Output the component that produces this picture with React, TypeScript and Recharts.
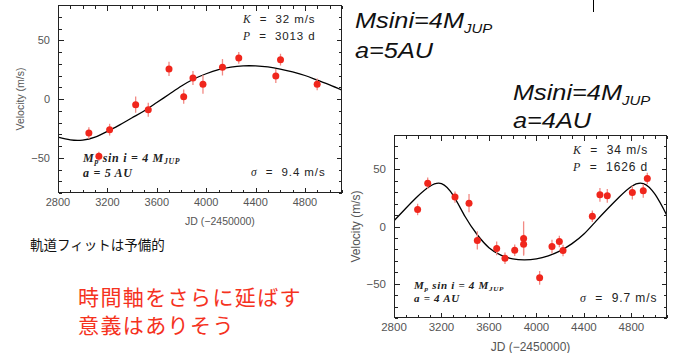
import React from "react";
import { ComposedChart, Line, Scatter, ErrorBar, XAxis, YAxis } from "recharts";

// Fitted RV curves, every 100 days
const fitDays = [
  2800, 2900, 3000, 3100, 3200, 3300, 3400, 3500, 3600, 3700, 3800, 3900,
  4000, 4100, 4200, 4300, 4400, 4500, 4600, 4700, 4800, 4900, 5000, 5100,
];
const fitVel5AU = [
  -32.5, -34.8, -35, -32.5, -27.5, -22, -16, -10, -3, 4, 11, 17, 21.5, 25,
  27.2, 28.2, 28.2, 27.3, 25.5, 23, 20, 16, 12, 7.5,
];
const fitVel4AU = [
  5, 16, 26.5, 35, 37.5, 27, 8.5, -7, -18.5, -25, -28.3, -29.2, -28.3, -25.6,
  -21.3, -15, -6.6, 4.5, 15.5, 26, 35, 37.5, 28, 9.5,
];

// Observations (JD - 2450000, m/s, 1-sigma)
const obsDays5AU = [3050, 3131, 3218, 3429, 3531, 3699, 3818, 3893, 3974, 4132, 4264, 4564, 4602, 4899];
const obsVel5AU = [-29, -48.8, -26.1, -4.8, -9.1, 25.6, 2, 17.9, 12.5, 27, 34.9, 19.6, 33.5, 12.5];
const obsErr5AU = [5, 4, 5, 7, 6, 6, 6, 6, 8, 7, 5, 6, 5, 5];

const obsDays4AU = [
  2999, 3084, 3314, 3432, 3502, 3665, 3735, 3817, 3892, 3892, 4027, 4131,
  4193, 4224, 4471, 4535, 4597, 4808, 4900, 4934,
];
const obsVel4AU = [
  14.9, 37.9, 25.7, 20.4, -12.2, -19.2, -27.7, -20.7, -10.5, -15.5, -44.9,
  -17.5, -13.1, -21, 9, 27.7, 26.8, 29.7, 31.2, 42,
];
const obsErr4AU = [5, 5, 5, 8, 8, 6, 5, 5, 15, 9, 6, 6, 5, 5, 5, 6, 6, 6, 6, 5];

const xMajor = [2800, 3200, 3600, 4000, 4400, 4800];
const xMinor = [
  2800, 2900, 3000, 3100, 3200, 3300, 3400, 3500, 3600, 3700, 3800, 3900,
  4000, 4100, 4200, 4300, 4400, 4500, 4600, 4700, 4800, 4900, 5000, 5100,
];
const yMajor = [-50, 0, 50];
const yMinor = [-80, -70, -60, -50, -40, -30, -20, -10, 0, 10, 20, 30, 40, 50, 60, 70, 80];

const X_DOMAIN: [number, number] = [2800, 5100];
const Y_DOMAIN: [number, number] = [-80, 80];

const AXIS = "#222";
const TICK_TEXT = "#555";
const SANS = '"Liberation Sans", Arial, sans-serif';
const SERIF = '"Liberation Serif", "Times New Roman", serif';

const fit5 = fitDays.map((t, i) => ({ t, v: fitVel5AU[i] }));
const fit4 = fitDays.map((t, i) => ({ t, v: fitVel4AU[i] }));
const obs5 = obsDays5AU.map((t, i) => ({ t, v: obsVel5AU[i], e: obsErr5AU[i] }));
const obs4 = obsDays4AU.map((t, i) => ({ t, v: obsVel4AU[i], e: obsErr4AU[i] }));

const fmt = (v: number) => (v < 0 ? `\u2212${Math.abs(v)}` : `${v}`);

function RedDot(props: any) {
  const { cx, cy } = props;
  if (cx == null || cy == null) return null;
  return <circle cx={cx} cy={cy} r={3.5} fill="#f0261c" />;
}

const MARGIN = { top: 5, right: 8, bottom: 0, left: 0 };

function panelConfig(fontSize: number, labelSize: number, yLabelOffset: number, xLabelOffset: number, xLabelDx: number) {
  return {
    tick: { fill: TICK_TEXT, fontSize, fontFamily: SANS },
    xLabel: {
      value: "JD (\u22122450000)",
      position: "insideBottom",
      offset: xLabelOffset,
      dx: xLabelDx,
      style: { fill: TICK_TEXT, fontSize: labelSize, fontFamily: SANS },
    },
    yLabel: {
      value: "Velocity (m/s)",
      angle: -90,
      position: "insideLeft",
      offset: yLabelOffset,
      style: { textAnchor: "middle", fill: TICK_TEXT, fontSize: labelSize, fontFamily: SANS },
    },
  };
}
const CFG_5AU = panelConfig(11, 10.5, 20, 10, 20);
const CFG_4AU = panelConfig(11.5, 12, 16, 2, 0);

interface PanelProps {
  width: number;
  height: number;
  yAxisWidth: number;
  xAxisHeight: number;
  fit: { t: number; v: number }[];
  obs: { t: number; v: number; e: number }[];
  cfg: ReturnType<typeof panelConfig>;
}

function RVPanel(p: PanelProps) {
  return (
    <ComposedChart width={p.width} height={p.height} margin={MARGIN}>
      <XAxis
        type="number"
        dataKey="t"
        domain={X_DOMAIN}
        allowDataOverflow
        ticks={xMajor}
        interval={0}
        tickLine={false}
        tickSize={0}
        tickMargin={5}
        axisLine={false}
        height={p.xAxisHeight}
        tick={p.cfg.tick}
        label={p.cfg.xLabel}
      />
      <YAxis
        type="number"
        domain={Y_DOMAIN}
        allowDataOverflow
        ticks={yMajor}
        interval={0}
        tickLine={false}
        tickSize={0}
        tickMargin={8}
        axisLine={false}
        width={p.yAxisWidth}
        tickFormatter={fmt}
        tick={p.cfg.tick}
        label={p.cfg.yLabel}
      />
      <Line
        data={p.fit}
        dataKey="v"
        type="natural"
        stroke="#000"
        strokeWidth={1.3}
        dot={false}
        activeDot={false}
        isAnimationActive={false}
      />
      <Scatter data={p.obs} dataKey="v" shape={RedDot} isAnimationActive={false}>
        <ErrorBar dataKey="e" direction="y" width={0} stroke="#f28a84" strokeWidth={1.3} isAnimationActive={false} />
      </Scatter>
    </ComposedChart>
  );
}

// boxed frame with inward major/minor ticks on all four sides, over the plot area
function Frame({ left, top, right, bottom }: { left: number; top: number; right: number; bottom: number }) {
  const w = right - left;
  const h = bottom - top;
  const sx = (t: number) => Math.round(((t - X_DOMAIN[0]) / (X_DOMAIN[1] - X_DOMAIN[0])) * w);
  const sy = (v: number) => Math.round(h - ((v - Y_DOMAIN[0]) / (Y_DOMAIN[1] - Y_DOMAIN[0])) * h);
  return (
    <svg
      width={w + 2}
      height={h + 2}
      style={{ position: "absolute", left: left - 1, top: top - 1, pointerEvents: "none" }}
    >
      <g transform="translate(1.5,1.5)" stroke={AXIS} strokeWidth={1} fill="none" shapeRendering="crispEdges">
        <rect x={0} y={0} width={w - 1} height={h - 1} />
        {xMinor.map((t) => {
          const len = xMajor.includes(t) ? 5 : 3;
          const x = sx(t);
          return (
            <g key={`x${t}`}>
              <line x1={x} x2={x} y1={h - 1} y2={h - 1 - len} />
              <line x1={x} x2={x} y1={0} y2={len} />
            </g>
          );
        })}
        {yMinor.map((v) => {
          const len = yMajor.includes(v) ? 5 : 3;
          const y = sy(v);
          return (
            <g key={`y${v}`}>
              <line x1={0} x2={len} y1={y} y2={y} />
              <line x1={w - 1} x2={w - 1 - len} y1={y} y2={y} />
            </g>
          );
        })}
      </g>
    </svg>
  );
}

function Note({
  left,
  top,
  size,
  children,
  style,
}: {
  left: number;
  top: number;
  size: number;
  children: React.ReactNode;
  style?: React.CSSProperties;
}) {
  return (
    <div
      style={{
        position: "absolute",
        left,
        top,
        fontSize: size,
        lineHeight: 1,
        whiteSpace: "pre",
        color: "#222",
        fontFamily: SANS,
        ...style,
      }}
    >
      {children}
    </div>
  );
}

const it: React.CSSProperties = { fontFamily: SERIF, fontStyle: "italic" };
const sub: React.CSSProperties = { fontSize: "0.65em", verticalAlign: "-0.25em", lineHeight: 0 };
const param: React.CSSProperties = { letterSpacing: 0.9 };

function MassLabel({ left, top, a, size, gap }: { left: number; top: number; a: string; size: number; gap: number }) {
  const st: React.CSSProperties = { ...it, fontWeight: 600, letterSpacing: 0.7 };
  return (
    <>
      <Note left={left} top={top} size={size} style={st}>
        M<span style={sub}>p</span>
        {" sin i = 4 M"}
        <span style={sub}>JUP</span>
      </Note>
      <Note left={left} top={top + gap} size={size} style={st}>
        {`a = ${a} AU`}
      </Note>
    </>
  );
}

const slideStyle: React.CSSProperties = {
  fontStyle: "italic",
  color: "#111",
  transform: "scaleX(1.15)",
  transformOrigin: "left",
};
const jup: React.CSSProperties = { fontSize: 13, verticalAlign: "-0.35em", lineHeight: 0 };
const CJK = '"Noto Sans CJK JP", sans-serif';

export default function App() {
  return (
    <div
      style={{
        position: "absolute",
        left: 0,
        top: 0,
        width: 675,
        height: 353,
        background: "#fff",
        overflow: "hidden",
        fontFamily: SANS,
      }}
    >
      <div style={{ position: "absolute", left: 0, top: 0 }}>
        <RVPanel width={350} height={235} yAxisWidth={58} xAxisHeight={42} fit={fit5} obs={obs5} cfg={CFG_5AU} />
      </div>
      <div style={{ position: "absolute", left: 340, top: 130 }}>
        <RVPanel width={335} height={223} yAxisWidth={54} xAxisHeight={35} fit={fit4} obs={obs4} cfg={CFG_4AU} />
      </div>
      <Frame left={58} top={5} right={342} bottom={193} />
      <Frame left={394} top={135} right={667} bottom={318} />

      {/* panel annotations */}
      <Note left={243} top={14} size={11.5} style={param}>
        <span style={it}>K</span>{"  =  32 m/s"}
      </Note>
      <Note left={243} top={31} size={11.5} style={param}>
        <span style={it}>P</span>{"  =  3013 d"}
      </Note>
      <MassLabel left={83} top={152} a="5" size={12} gap={14.5} />
      <Note left={251} top={167} size={11.5} style={param}>
        <span style={it}>σ</span>{"  =  9.4 m/s"}
      </Note>

      <Note left={573} top={144} size={12} style={param}>
        <span style={it}>K</span>{"  =  34 m/s"}
      </Note>
      <Note left={573} top={161} size={12} style={param}>
        <span style={it}>P</span>{"  =  1626 d"}
      </Note>
      <MassLabel left={414} top={280} a="4" size={11} gap={13} />
      <Note left={580} top={292} size={12} style={param}>
        <span style={it}>σ</span>{"  =  9.7 m/s"}
      </Note>

      {/* slide text */}
      <Note left={355} top={9.5} size={22} style={slideStyle}>
        Msini=4M<span style={jup}>JUP</span>
      </Note>
      <Note left={355} top={39.5} size={22} style={slideStyle}>
        a=5AU
      </Note>
      <Note left={513} top={81.5} size={22} style={slideStyle}>
        Msini=4M<span style={jup}>JUP</span>
      </Note>
      <Note left={513} top={109.5} size={22} style={slideStyle}>
        a=4AU
      </Note>
      <div style={{ position: "absolute", left: 593, top: 0, width: 1, height: 12, background: "#000" }} />

      <Note left={30} top={238} size={13.5} style={{ fontFamily: CJK, color: "#111" }}>
        軌道フィットは予備的
      </Note>
      <Note left={78} top={286} size={21} style={{ fontFamily: CJK, color: "#f5321e", letterSpacing: 1.4 }}>
        時間軸をさらに延ばす
      </Note>
      <Note left={78} top={313.5} size={21} style={{ fontFamily: CJK, color: "#f5321e", letterSpacing: 1.4 }}>
        意義はありそう
      </Note>
    </div>
  );
}
